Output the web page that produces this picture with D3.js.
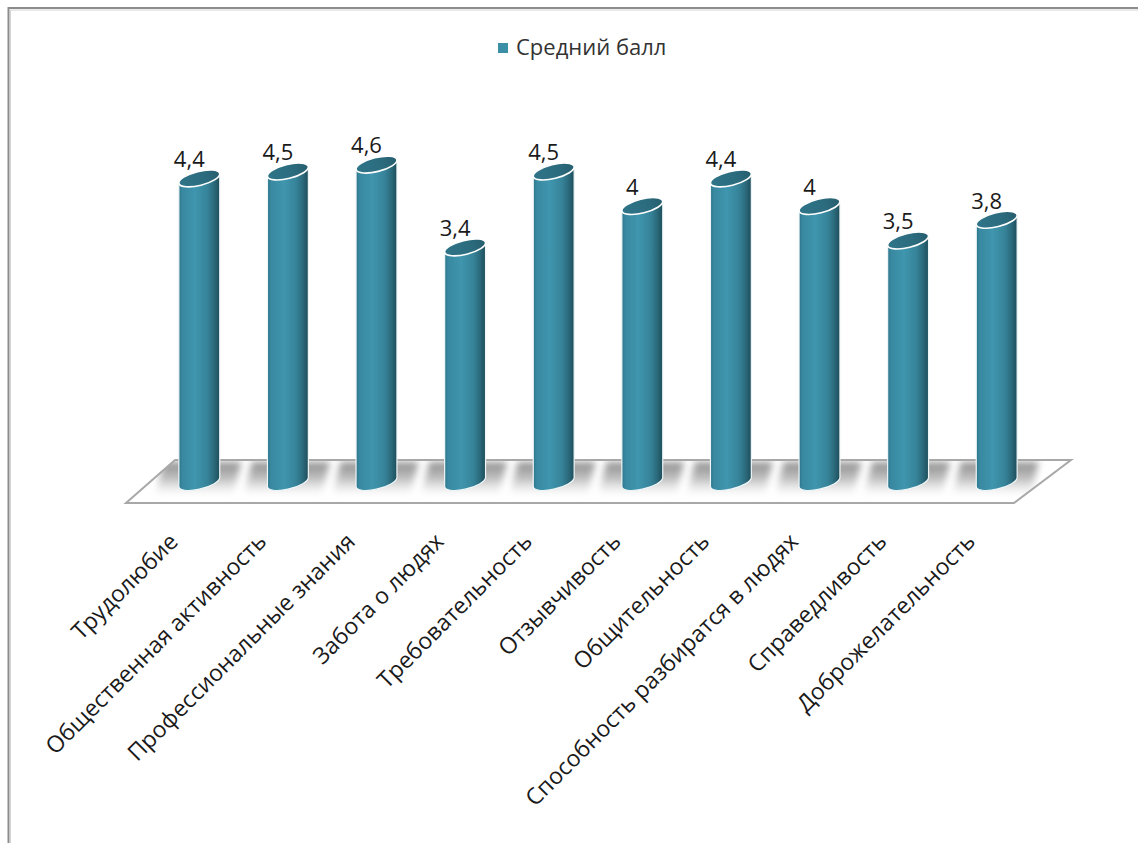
<!DOCTYPE html>
<html>
<head>
<meta charset="utf-8">
<script src="https://cdn.jsdelivr.net/npm/d3@7"></script>
<style>
  html, body { margin: 0; padding: 0; background: #fff; }
  svg { display: block; }
  text { font-family: "Open Sans", "Noto Sans", sans-serif; }
</style>
</head>
<body>
<svg id="chart" width="1138" height="843"></svg>
<script>
// Average score per personal quality
const categories = [
  "Трудолюбие",
  "Общественная активность",
  "Профессиональные знания",
  "Забота о людях",
  "Требовательность",
  "Отзывчивость",
  "Общительность",
  "Способность разбиратся в людях",
  "Справедливость",
  "Доброжелательность"
];
const values = [4.4, 4.5, 4.6, 3.4, 4.5, 4.0, 4.4, 4.0, 3.5, 3.8];
const seriesName = "Средний балл";

const ru = d3.formatLocale({ decimal: ",", thousands: " ", grouping: [3], currency: ["", " ₽"] });
const fmt = ru.format(".2~r");

const svg = d3.select("#chart");
const W = 1138, H = 843;

// Scales
const x = d3.scaleBand().domain(categories).range([155, 1041]);
const y = d3.scaleLinear().domain([0, 5]).range([482, 137]);

const defs = svg.append("defs");

const bodyGrad = defs.append("linearGradient").attr("id", "cylBody")
  .attr("x1", "0%").attr("x2", "100%").attr("y1", "0%").attr("y2", "0%");
[[0, "#2d7489"], [0.08, "#3888a0"], [0.4, "#3f96ae"], [0.7, "#368399"], [0.85, "#2c6c7e"], [1, "#1e4d5a"]]
  .forEach(([o, c]) => bodyGrad.append("stop").attr("offset", o).attr("stop-color", c));

const topGrad = defs.append("linearGradient").attr("id", "cylTop")
  .attr("x1", "0%").attr("x2", "100%").attr("y1", "0%").attr("y2", "0%");
[[0, "#2f7488"], [0.6, "#2c6c7f"], [1, "#265e6e"]]
  .forEach(([o, c]) => topGrad.append("stop").attr("offset", o).attr("stop-color", c));

const shGrad = defs.append("linearGradient").attr("id", "shadowGrad")
  .attr("x1", "0").attr("x2", "0").attr("y1", "0").attr("y2", "1");
[[0, "#808080", 0.9], [0.5, "#9a9a9a", 0.65], [1, "#c8c8c8", 0.05]]
  .forEach(([o, c, op]) => shGrad.append("stop").attr("offset", o).attr("stop-color", c).attr("stop-opacity", op));

defs.append("filter").attr("id", "soft").attr("x", "-30%").attr("y", "-30%").attr("width", "160%").attr("height", "160%")
  .append("feGaussianBlur").attr("stdDeviation", 3.5);

// Chart frame
svg.append("path")
  .attr("d", `M8.5,${H} L8.5,8 L${W},8`)
  .attr("fill", "none").attr("stroke", "#8c8c8c").attr("stroke-width", 2);
svg.append("path")
  .attr("d", `M10.5,${H} L10.5,10 L${W},10`)
  .attr("fill", "none").attr("stroke", "#d4d4d4").attr("stroke-width", 1);

// Legend
const legend = svg.append("g").attr("transform", "translate(498,42)");
legend.append("rect").attr("width", 10).attr("height", 10).attr("y", 1).attr("fill", "#3a8ea6");
legend.append("text").attr("x", 18).attr("y", 13).attr("font-size", 22).attr("fill", "#333")
  .text(seriesName);

// Floor
const r0 = x.range()[0], r1 = x.range()[1];
const floorBack = 460, floorFront = 503;
const floor = [[r0 + 20, floorBack], [r1 + 30, floorBack], [r1 - 27, floorFront], [r0 - 29, floorFront]];
const floorPts = floor.map(p => p.join(",")).join(" ");
defs.append("clipPath").attr("id", "floorClip")
  .append("polygon").attr("points", floorPts);
svg.append("polygon")
  .attr("points", floorPts)
  .attr("fill", "#fff");

// Cylinder geometry
const a = 21, b = 7, th = -14 * Math.PI / 180;
const deg = th * 180 / Math.PI;
function tangents() {
  const c = Math.cos(th), s = Math.sin(th);
  const t0 = Math.atan2(-b * s, a * c);
  const px = t => a * Math.cos(t) * c - b * Math.sin(t) * s;
  const py = t => a * Math.cos(t) * s + b * Math.sin(t) * c;
  let p1 = { x: px(t0), y: py(t0) }, p2 = { x: px(t0 + Math.PI), y: py(t0 + Math.PI) };
  return p1.x > p2.x ? { l: p2, r: p1 } : { l: p1, r: p2 };
}
const tg = tangents();
function cylPath(cx, yTop, yBot) {
  const l = tg.l, r = tg.r;
  return `M${cx + l.x},${yTop + l.y} L${cx + l.x},${yBot + l.y} ` +
         `A${a},${b} ${deg} 0 0 ${cx + r.x},${yBot + r.y} ` +
         `L${cx + r.x},${yTop + r.y} A${a},${b} ${deg} 0 0 ${cx + l.x},${yTop + l.y} Z`;
}

const data = categories.map((c, i) => ({ cat: c, v: values[i] }));
const cxOf = d => x(d.cat) + x.bandwidth() / 2;

// Floor shadows behind each cylinder, kept inside the floor
svg.append("g").attr("clip-path", "url(#floorClip)")
  .append("g").attr("filter", "url(#soft)")
  .selectAll("polygon").data(data).join("polygon")
  .attr("points", d => {
    const cx = cxOf(d);
    return [[cx - 36, floorBack + 2], [cx + 42, floorBack + 2], [cx + 34, floorFront - 9], [cx - 44, floorFront - 9]]
      .map(p => p.join(",")).join(" ");
  })
  .attr("fill", "url(#shadowGrad)");

// Floor outline
svg.append("polygon")
  .attr("points", floorPts)
  .attr("fill", "none").attr("stroke", "#a8a8a8").attr("stroke-width", 2).attr("stroke-linejoin", "miter");

// Cylinders
const bars = svg.append("g").selectAll("g").data(data).join("g");
bars.append("path")
  .attr("d", d => cylPath(cxOf(d), y(d.v), y(0)))
  .attr("fill", "url(#cylBody)")
  .attr("stroke", "#eef6f8").attr("stroke-width", 1.2);
bars.append("ellipse")
  .attr("cx", d => cxOf(d)).attr("cy", d => y(d.v))
  .attr("rx", a).attr("ry", b)
  .attr("transform", d => `rotate(${deg},${cxOf(d)},${y(d.v)})`)
  .attr("fill", "url(#cylTop)")
  .attr("stroke", "#ffffff").attr("stroke-width", 1.6);

// Value labels
svg.append("g").selectAll("text").data(data).join("text")
  .attr("x", d => cxOf(d) - 10)
  .attr("y", d => y(d.v) - 19)
  .attr("dy", "0.35em")
  .attr("text-anchor", "middle")
  .attr("font-size", 22)
  .attr("fill", "#1a1a1a")
  .text(d => fmt(d.v));

// Category labels, rotated
svg.append("g").selectAll("text").data(data).join("text")
  .attr("transform", d => `translate(${cxOf(d) - 20},${543}) rotate(-45)`)
  .attr("text-anchor", "end")
  .attr("font-size", 23)
  .attr("fill", "#1a1a1a")
  .text(d => d.cat);
</script>
</body>
</html>
